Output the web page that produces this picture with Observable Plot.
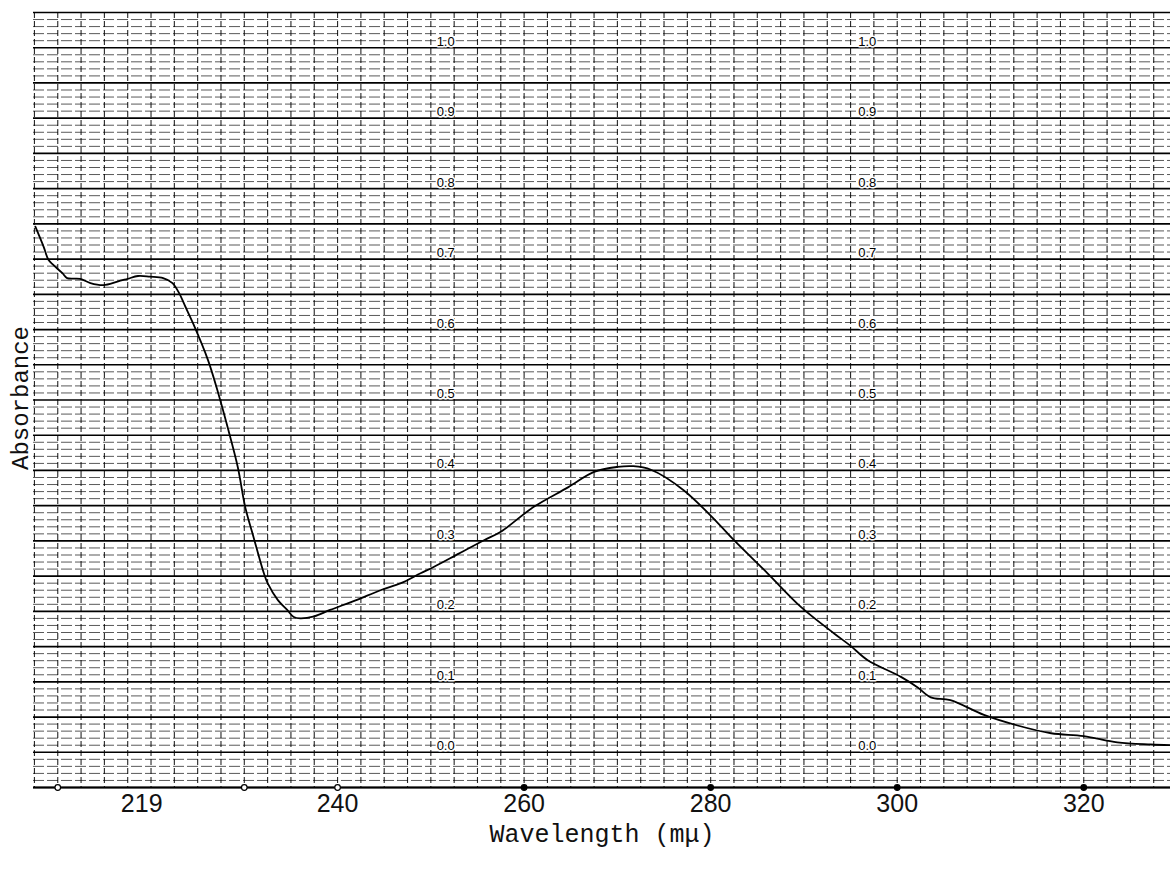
<!DOCTYPE html>
<html>
<head>
<meta charset="utf-8">
<script src="https://cdn.jsdelivr.net/npm/d3@7"></script>
<script src="https://cdn.jsdelivr.net/npm/@observablehq/plot@0.6"></script>
<style>
  html, body { margin: 0; padding: 0; background: #fff; }
</style>
</head>
<body>
<div id="chart"></div>
<script>
// Spectrum trace (wavelength in mμ, absorbance)
const wavelength = [207.6, 208.5, 209.0, 209.5, 210.5, 211.0, 212.4, 213.5, 214.9, 216.4, 217.5, 218.6, 219.9, 221.3, 222.3, 223.0, 223.7, 224.5, 226.1, 227.2, 228.2, 229.3, 230.1, 231.0, 232.1, 232.5, 233.6, 234.6, 235.3, 236.0, 237.5, 239.2, 242.0, 244.6, 246.8, 248.9, 250.3, 253.0, 255.7, 257.5, 261.0, 264.7, 267.5, 270.0, 271.7, 273.6, 277.1, 280.8, 282.5, 286.1, 289.7, 293.2, 295.0, 296.8, 300.4, 302.2, 303.6, 305.7, 309.3, 312.9, 316.5, 320.0, 323.6, 327.2, 329.3];
const absorbance = [0.746, 0.717, 0.699, 0.692, 0.680, 0.673, 0.672, 0.666, 0.663, 0.668, 0.672, 0.676, 0.675, 0.673, 0.666, 0.652, 0.632, 0.609, 0.557, 0.510, 0.462, 0.405, 0.348, 0.305, 0.254, 0.240, 0.216, 0.202, 0.192, 0.190, 0.193, 0.202, 0.216, 0.230, 0.240, 0.254, 0.263, 0.282, 0.301, 0.313, 0.348, 0.376, 0.398, 0.405, 0.406, 0.401, 0.372, 0.325, 0.301, 0.254, 0.206, 0.169, 0.151, 0.131, 0.107, 0.092, 0.078, 0.074, 0.053, 0.038, 0.027, 0.023, 0.014, 0.011, 0.010];

// Axis tick labels along the wavelength axis
const xTickValues = [219, 240, 260, 280, 300, 320];
const xTickLabels = ["219", "240", "260", "280", "300", "320"];

// Marker dots printed on the wavelength axis
const axisDots = [210, 230, 240, 260, 280, 300, 320];
const axisDotFilled = [false, false, false, true, true, true, true];

// Absorbance labels printed on the chart paper
const paperLabelValues = [0.0, 0.1, 0.2, 0.3, 0.4, 0.5, 0.6, 0.7, 0.8, 0.9, 1.0];
const paperLabelTexts = ["0.0", "0.1", "0.2", "0.3", "0.4", "0.5", "0.6", "0.7", "0.8", "0.9", "1.0"];
const paperLabelColumns = [250.3, 295.5];

const xTitle = "Wavelength (mμ)";
const yTitle = "Absorbance";

// build tables
const trace = wavelength.map((w, i) => ({w, a: absorbance[i]}));
const ticks = xTickValues.map((v, i) => ({v, t: xTickLabels[i]}));
const dots = axisDots.map((v, i) => ({v, filled: axisDotFilled[i]}));
const paperLabels = paperLabelColumns.flatMap(c => paperLabelValues.map((v, i) => ({c, v, t: paperLabelTexts[i]})));

// chart-paper grid
const round = v => Math.round(v * 1000) / 1000;
const hAll = d3.range(-5, 106).map(k => round(k / 100));
const hMajor = hAll.filter((v, i) => i % 5 === 0);
const hMinor = hAll.filter((v, i) => i % 5 !== 0);
const vLines = d3.range(0, 50).map(k => 207.5 + k * 2.5);

const chart = Plot.plot({
  width: 1170,
  height: 871,
  marginLeft: 33,
  marginRight: 0,
  marginTop: 12,
  marginBottom: 84,
  x: {domain: [207.4, 329.3], axis: null},
  y: {domain: [-0.05, 1.05], axis: null},
  style: {background: "#fff", overflow: "visible"},
  marks: [
    Plot.ruleY(hMinor, {stroke: "#000", strokeWidth: 1, strokeOpacity: 0.65, strokeDasharray: "11,3"}),
    Plot.ruleX(vLines, {stroke: "#000", strokeWidth: 1.1, strokeOpacity: 0.85, strokeDasharray: "6,3"}),
    Plot.ruleY(hMajor, {stroke: "#000", strokeWidth: 1.7}),
    Plot.ruleY([-0.05], {stroke: "#000", strokeWidth: 2.2}),
    Plot.text(paperLabels, {
      x: "c", y: "v", text: "t", dx: 3, dy: -2,
      textAnchor: "start", lineAnchor: "bottom",
      fontSize: 13, fontFamily: "Liberation Sans, Arial, sans-serif", fill: "#000",
      stroke: "#fff", strokeWidth: 3, paintOrder: "stroke"
    }),
    Plot.line(trace, {x: "w", y: "a", stroke: "#000", strokeWidth: 1.8, curve: "catmull-rom"}),
    Plot.dot(dots, {
      x: "v", frameAnchor: "bottom", r: 2.8,
      fill: d => d.filled ? "#000" : "#fff", stroke: "#000", strokeWidth: 1.2
    }),
    Plot.text(ticks, {
      x: "v", text: "t", frameAnchor: "bottom", lineAnchor: "middle", textAnchor: "middle", dy: 16,
      fontSize: 25, fontFamily: "Liberation Sans, Arial, sans-serif", fill: "#111"
    }),
    Plot.text([xTitle], {
      frameAnchor: "bottom", lineAnchor: "middle", textAnchor: "middle", dy: 46, text: d => d,
      fontSize: 25, fontFamily: "Liberation Mono, Courier New, monospace", fill: "#111"
    }),
    Plot.text([yTitle], {
      frameAnchor: "left", lineAnchor: "middle", textAnchor: "middle", dx: -13, dy: -2, rotate: -90, text: d => d,
      fontSize: 24, fontFamily: "Liberation Mono, Courier New, monospace", fill: "#111"
    })
  ]
});
document.getElementById("chart").appendChild(chart);
</script>
</body>
</html>
